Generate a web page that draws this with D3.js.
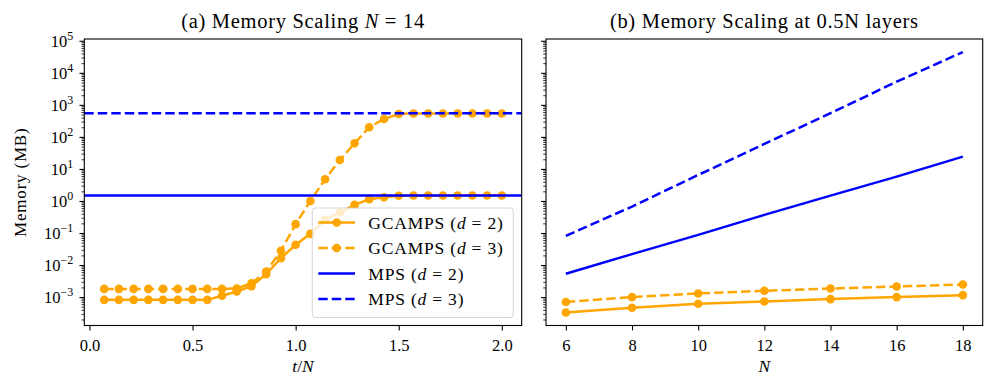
<!DOCTYPE html>
<html>
<head>
<meta charset="utf-8">
<script src="https://cdn.jsdelivr.net/npm/d3@7"></script>
<style>
body{margin:0;background:#fff;}
svg text{font-family:"Liberation Serif",serif;fill:#000;}
</style>
</head>
<body>
<script>
// (a) memory vs t/N at N = 14
var tOverN=[0.0714,0.1429,0.2143,0.2857,0.3571,0.4286,0.5,0.5714,0.6429,0.7143,0.7857,0.8571,0.9286,1.0,
            1.0714,1.1429,1.2143,1.2857,1.3571,1.4286,1.5,1.5714,1.6429,1.7143,1.7857,1.8571,1.9286,2.0];
var gcampsD2=[8.2e-4,8.2e-4,8.2e-4,8.2e-4,8.2e-4,8.2e-4,8.2e-4,8.2e-4,1.1e-3,1.5e-3,2.2e-3,5.2e-3,0.0164,0.0428,
              0.094,0.257,0.435,0.755,1.14,1.31,1.46,1.48,1.48,1.48,1.48,1.48,1.48,1.48];
var gcampsD3=[1.8e-3,1.8e-3,1.8e-3,1.8e-3,1.8e-3,1.8e-3,1.8e-3,1.8e-3,1.8e-3,1.85e-3,2.7e-3,6.3e-3,0.0278,0.189,
              1.0,4.77,19.1,63,200,362,519,540,540,540,540,540,540,540];
var mpsD2=1.48;
var mpsD3=546;

// (b) memory vs N at 0.5N layers
var sizes=[6,8,10,12,14,16,18];
var gcampsD2N=[3.31e-4,4.64e-4,6.18e-4,7.3e-4,8.66e-4,1.0e-3,1.15e-3];
var gcampsD3N=[7.0e-4,1.0e-3,1.3e-3,1.57e-3,1.85e-3,2.14e-3,2.47e-3];
var mpsD2N=[5.33e-3,0.0219,0.0877,0.368,1.47,5.77,24.2];
var mpsD3N=[0.0815,0.668,6.5,60.3,550,5280,44600];

var yTicks=[1e-3,1e-2,1e-1,1e0,1e1,1e2,1e3,1e4,1e5];
var xTicksA=[0,0.5,1,1.5,2];
var xTicksB=[6,8,10,12,14,16,18];
var legendNames=["GCAMPS","GCAMPS","MPS","MPS"];
var legendD=["2","3","2","3"];

var width=996, height=391;
var plotTop=39, plotBottom=325.5;
var panelA={left:84.3,right:521.7};
var panelB={left:546,right:982.7};
var orange="#ffa500", blue="#0000ff";
var lw=2.5, dash="9.4,4.1";

var svg=d3.select("body").append("svg").attr("width",width).attr("height",height);

// shared log y scale, matplotlib style 5% margins in log space
var allVals=gcampsD2.concat(gcampsD3,[mpsD2,mpsD3],gcampsD2N,gcampsD3N,mpsD2N,mpsD3N);
var lo=Math.log10(d3.min(allVals)), hi=Math.log10(d3.max(allVals));
var pad=0.05*(hi-lo);
var y=d3.scaleLog().domain([Math.pow(10,lo-pad),Math.pow(10,hi+pad)]).range([plotBottom,plotTop]);

var minorTicks=[];
for(var e=-4;e<=5;e++){ for(var s=2;s<=9;s++){ var v=s*Math.pow(10,e); if(v>=y.domain()[0]&&v<=y.domain()[1]) minorTicks.push(v);} }

function padded(ext){ var sp=ext[1]-ext[0]; return [ext[0]-0.05*sp, ext[1]+0.05*sp]; }
var xA=d3.scaleLinear().domain(padded(d3.extent(tOverN))).range([panelA.left,panelA.right]);
var xB=d3.scaleLinear().domain(padded(d3.extent(sizes))).range([panelB.left,panelB.right]);

function drawYAxis(left, labels){
  svg.append("g").attr("transform","translate("+left+",0)")
    .call(d3.axisLeft(y).tickValues(minorTicks).tickSize(2.8).tickFormat(""))
    .call(function(g){ g.select(".domain").remove(); g.selectAll("line").attr("stroke-width",0.8); });
  var g=svg.append("g").attr("transform","translate("+left+",0)")
    .call(d3.axisLeft(y).tickValues(yTicks).tickSize(4.9).tickPadding(6.1).tickFormat(function(){return "";}));
  g.attr("font-size",16.5).attr("font-family","Liberation Serif");
  g.select(".domain").remove();
  g.selectAll("line").attr("stroke-width",1.1);
  if(labels){
    g.selectAll(".tick text").each(function(d){
      var t=d3.select(this);
      var ex=Math.round(Math.log10(d));
      t.append("tspan").text("10");
      t.append("tspan").attr("dy",-7).attr("font-size",12).text(ex<0?"\u2212"+(-ex):ex);
    });
  }
}

function drawXAxis(x, ticks, fmt){
  var g=svg.append("g").attr("transform","translate(0,"+plotBottom+")")
    .call(d3.axisBottom(x).tickValues(ticks).tickSize(4.9).tickFormat(fmt));
  g.attr("font-size",16.5).attr("font-family","Liberation Serif");
  g.select(".domain").remove();
  g.selectAll("line").attr("stroke-width",1.1);
  g.selectAll(".tick text").attr("y",25.2).attr("dy",0);
}

function drawSeries(x, xs, ys, dashed){
  var pts=xs.map(function(d,i){return [d,ys[i]];});
  var line=d3.line().x(function(d){return x(d[0]);}).y(function(d){return y(d[1]);});
  var g=svg.append("g");
  g.append("path").datum(pts).attr("d",line).attr("fill","none").attr("stroke",orange)
    .attr("stroke-width",lw).attr("stroke-dasharray",dashed?dash:null);
  g.selectAll("circle").data(pts).enter().append("circle")
    .attr("cx",function(d){return x(d[0]);}).attr("cy",function(d){return y(d[1]);})
    .attr("r",4.3).attr("fill",orange);
}

function drawLine(x, xs, ys, dashed){
  var pts=xs.map(function(d,i){return [d,ys[i]];});
  svg.append("path").datum(pts)
    .attr("d",d3.line().x(function(d){return x(d[0]);}).y(function(d){return y(d[1]);}))
    .attr("fill","none").attr("stroke",blue).attr("stroke-width",lw)
    .attr("stroke-dasharray",dashed?dash:null);
}

// ---- panel (a)
drawSeries(xA,tOverN,gcampsD2,false);
drawSeries(xA,tOverN,gcampsD3,true);
drawLine(xA,xA.domain(),[mpsD2,mpsD2],false);
drawLine(xA,xA.domain(),[mpsD3,mpsD3],true);

// ---- panel (b)
drawSeries(xB,sizes,gcampsD2N,false);
drawSeries(xB,sizes,gcampsD3N,true);
drawLine(xB,sizes,mpsD2N,false);
drawLine(xB,sizes,mpsD3N,true);

// axes + frames
drawYAxis(panelA.left,true);
drawYAxis(panelB.left,false);
drawXAxis(xA,xTicksA,d3.format(".1f"));
drawXAxis(xB,xTicksB,d3.format("d"));
[panelA,panelB].forEach(function(p){
  svg.append("rect").attr("x",p.left).attr("y",plotTop).attr("width",p.right-p.left).attr("height",plotBottom-plotTop)
    .attr("fill","none").attr("stroke","#000").attr("stroke-width",1.1);
});

// legend (lower right of panel a)
var leg=svg.append("g");
leg.append("rect").attr("x",312.3).attr("y",208).attr("width",201).attr("height",109.5).attr("rx",3)
  .attr("fill","#fff").attr("fill-opacity",0.8).attr("stroke","#ccc").attr("stroke-opacity",0.8).attr("stroke-width",1);
legendNames.forEach(function(name,i){
  var yy=222.5+i*25.5;
  var col=i<2?orange:blue;
  leg.append("line").attr("x1",318.3).attr("x2",355).attr("y1",yy).attr("y2",yy)
    .attr("stroke",col).attr("stroke-width",lw).attr("stroke-dasharray",i%2?dash:null);
  if(i<2) leg.append("circle").attr("cx",336.7).attr("cy",yy).attr("r",4.3).attr("fill",orange);
  var t=leg.append("text").attr("x",368.3).attr("y",yy+6).attr("font-size",17.5).attr("letter-spacing",0.8);
  t.append("tspan").text(name+" (");
  t.append("tspan").attr("font-style","italic").text("d");
  t.append("tspan").text(" = "+legendD[i]+")");
});

// titles and labels
var tA=svg.append("text").attr("x",(panelA.left+panelA.right)/2).attr("y",28).attr("text-anchor","middle")
  .attr("font-size",20.5).attr("letter-spacing",0.7);
tA.append("tspan").text("(a) Memory Scaling ");
tA.append("tspan").attr("font-style","italic").text("N");
tA.append("tspan").text(" = 14");
svg.append("text").attr("x",(panelB.left+panelB.right)/2).attr("y",28).attr("text-anchor","middle")
  .attr("font-size",20.5).attr("letter-spacing",0.7)
  .text("(b) Memory Scaling at 0.5N layers");

var xlA=svg.append("text").attr("x",(panelA.left+panelA.right)/2).attr("y",372).attr("text-anchor","middle").attr("font-size",17.5);
xlA.append("tspan").attr("font-style","italic").text("t");
xlA.append("tspan").text("/");
xlA.append("tspan").attr("font-style","italic").text("N");
svg.append("text").attr("x",(panelB.left+panelB.right)/2).attr("y",372).attr("text-anchor","middle").attr("font-size",17.5)
  .attr("font-style","italic").text("N");

svg.append("text").attr("transform","translate(26,"+((plotTop+plotBottom)/2)+") rotate(-90)")
  .attr("text-anchor","middle").attr("font-size",17).attr("letter-spacing",0.8).text("Memory (MB)");
</script>
</body>
</html>
